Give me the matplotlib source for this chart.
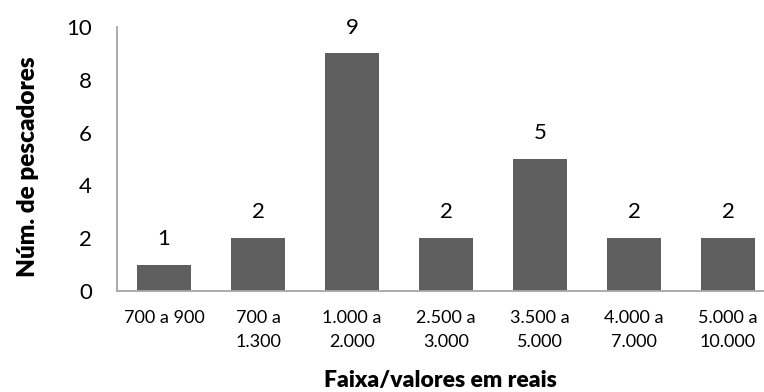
import matplotlib.pyplot as plt
import numpy as np

# renda mensal dos pescadores por faixa
faixas = ["700 a 900", "700 a\n1.300", "1.000 a\n2.000", "2.500 a\n3.000",
          "3.500 a\n5.000", "4.000 a\n7.000", "5.000 a\n10.000"]
pescadores = [1, 2, 9, 2, 5, 2, 2]
y_ticks = [0, 2, 4, 6, 8, 10]

plt.rcParams["font.family"] = ["Lato", "DejaVu Sans"]

fig = plt.figure(figsize=(7.64, 3.92), dpi=100)
# the plot area runs a little past the right edge, as in the original sheet
ax = fig.add_axes([117 / 764, 101 / 392, 658 / 764, 264 / 392])

x = np.arange(len(faixas))
bars = ax.bar(x, pescadores, width=0.575, color="#5f5f5f")
for bar, v in zip(bars, pescadores):
    ax.text(bar.get_x() + bar.get_width() / 2, v + 0.6, str(v),
            ha="center", va="bottom", fontsize=16, color="black")

ax.set_xlim(-0.5, len(faixas) - 0.5)
ax.set_ylim(0, 10)
ax.set_yticks(y_ticks)
ax.set_yticklabels([str(t) for t in y_ticks], fontsize=16)
ax.set_xticks(x)
ax.set_xticklabels(faixas, fontsize=13, linespacing=1.6)
ax.tick_params(axis="both", length=0)
ax.tick_params(axis="x", pad=14)
ax.tick_params(axis="y", pad=18)

for side in ["top", "right"]:
    ax.spines[side].set_visible(False)
for side in ["left", "bottom"]:
    ax.spines[side].set_color("#a6a6a6")
    ax.spines[side].set_linewidth(1.3)

fig.text(28 / 764, 1 - 167 / 392, "Núm. de pescadores", rotation=90,
         ha="center", va="center", fontsize=17.5, fontweight="heavy")
fig.text(440 / 764, 1 - 380 / 392, "Faixa/valores em reais",
         ha="center", va="center", fontsize=16.5, fontweight="heavy")

fig.savefig("out.png", dpi=100)
